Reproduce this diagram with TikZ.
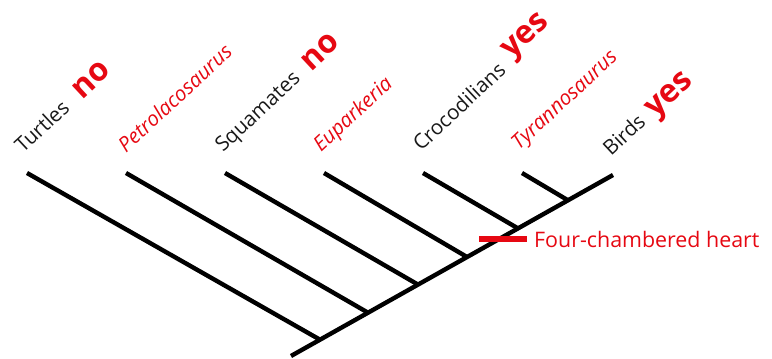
\documentclass[tikz,border=0pt]{standalone}
\usepackage{fontspec}
\setmainfont{Open Sans}
\definecolor{hred}{RGB}{230,8,18}
\definecolor{tblack}{RGB}{25,25,25}
\tikzset{
  branch/.style={line width=4.4pt, black},
  taxon/.style={anchor=base west, rotate=43, inner sep=0pt, text=tblack, font=\fontsize{20.5}{20.5}\selectfont},
  fossil/.style={taxon, text=hred, font=\fontsize{20.5}{20.5}\selectfont\itshape},
  answer/.style={anchor=center, rotate=43, inner sep=0pt, text=hred, font=\fontsize{32}{32}\selectfont\bfseries},
  trait/.style={line width=5.5pt, hred},
  traitlabel/.style={anchor=west, inner sep=0pt, text=hred, font=\fontsize{21.4}{21.4}\selectfont}
}
\begin{document}
\begin{tikzpicture}[x=1pt,y=1pt]
\useasboundingbox (0,0) rectangle (772,359);
% tree coordinates (y = 359 - pixel row)
\coordinate (root) at (291,3);
\coordinate (tipB) at (613,184);
\coordinate (j1) at (320,19.3);
\coordinate (j2) at (368,46.3);
\coordinate (j3) at (418,74.4);
\coordinate (j4) at (467,102);
\coordinate (j5) at (518,130.6);
\coordinate (j6) at (568,158.7);
\coordinate (t1) at (27,186);
\coordinate (t2) at (126,186);
\coordinate (t3) at (225,186);
\coordinate (t4) at (324,186);
\coordinate (t5) at (423,186);
\coordinate (t6) at (522,186);
\draw[branch] (root) -- (tipB);
\draw[branch] (j1) -- (t1);
\draw[branch] (j2) -- (t2);
\draw[branch] (j3) -- (t3);
\draw[branch] (j4) -- (t4);
\draw[branch] (j5) -- (t5);
\draw[branch] (j6) -- (t6);
% trait marker
\coordinate (m1) at (479,120);
\coordinate (m2) at (527,120);
\draw[trait] (m1) -- (m2);
\node[traitlabel] (heart) at (534,120) {Four-chambered heart};
% taxon labels
\node[taxon] (turtles) at (23,205) {Turtles};
\node[fossil] (petro) at (126,205) {Petrolacosaurus};
\node[taxon] (squam) at (223,206) {Squamates};
\node[fossil] (eupa) at (321,206) {Euparkeria};
\node[taxon] (croc) at (421,207) {Crocodilians};
\node[fossil] (tyra) at (519,208) {Tyrannosaurus};
\node[taxon] (birds) at (611,202) {Birds};
% answers
\node[answer] (no1) at (91,279) {no};
\node[answer] (no2) at (320,307) {no};
\node[answer] (yes1) at (527,321) {yes};
\node[answer] (yes2) at (671,262) {yes};
\end{tikzpicture}
\end{document}
